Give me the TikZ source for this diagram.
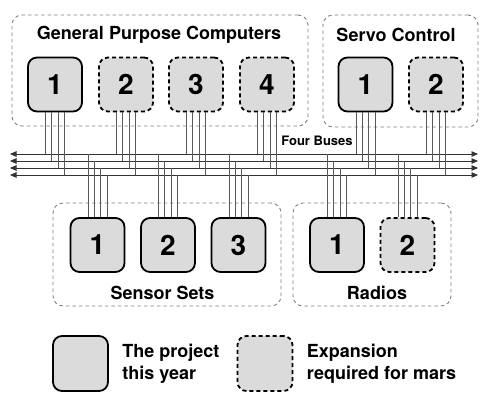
\documentclass[tikz,border=0pt]{standalone}
\usepackage{fontspec}
\setmainfont{TeX Gyre Heros}
\usetikzlibrary{arrows.meta, positioning, calc}

\begin{document}
\begin{tikzpicture}[x=1pt, y=-1pt,
    unit/.style={draw, line width=1.8pt, rounded corners=9pt, fill=gray!28, minimum width=54pt, minimum height=54pt, font=\fontsize{28}{30}\selectfont\bfseries},
    spare/.style={unit, dash pattern=on 4pt off 3pt},
    group/.style={draw=black!50, line width=0.9pt, dash pattern=on 3.5pt off 3pt, rounded corners=10pt, inner sep=0pt},
    title/.style={font=\fontsize{18}{22}\selectfont\bfseries},
    wire/.style={draw=black!65, line width=0.9pt},
    bus/.style={draw=black!80, line width=0.9pt, {Triangle[length=6.5pt,width=5.5pt]}-{Triangle[length=6.5pt,width=5.5pt]}}]

    \useasboundingbox (0,0) rectangle (490,400);

    % Groups
    \node[group, minimum width=296pt, minimum height=111pt] (gpc) at (160,70.5) {};
    \node[group, minimum width=155pt, minimum height=112pt] (servo) at (400.5,71) {};
    \node[group, minimum width=228pt, minimum height=103pt] (sensors) at (167,254.5) {};
    \node[group, minimum width=158pt, minimum height=103pt] (radios) at (372,254.5) {};

    \node[title] (gpclabel) at (159,35) {General Purpose Computers};
    \node[title] (servolabel) at (396,35) {Servo Control};
    \node[title] (sensorslabel) at (162.5,293) {Sensor Sets};
    \node[title] (radioslabel) at (377,293) {Radios};

    % Units
    \node[unit] (c1) at (55,84.5) {1};
    \node[spare] (c2) at (126,84.5) {2};
    \node[spare] (c3) at (196,84.5) {3};
    \node[spare] (c4) at (267,84.5) {4};
    \node[unit] (s1) at (365.5,84.5) {1};
    \node[spare] (s2) at (436,84.5) {2};
    \node[unit] (n1) at (97.5,245) {1};
    \node[unit] (n2) at (168,245) {2};
    \node[unit] (n3) at (238.5,245) {3};
    \node[unit] (r1) at (337,245) {1};
    \node[spare] (r2) at (407.5,245) {2};

    % Buses
    \foreach \i/\y in {1/154,2/161,3/168,4/175} {
        \coordinate (busL\i) at (10,\y);
        \coordinate (busR\i) at (478,\y);
        \draw[bus] (busL\i) -- (busR\i);
    }
    \node[font=\fontsize{13}{15}\selectfont\bfseries] (buslabel) at (317,141) {Four Buses};

    % Wires
    \foreach \n in {c1,c2,c3,c4,s1,s2}
        \foreach \i/\dx in {1/-9.5,2/-3.2,3/3.2,4/9.5}
            \draw[wire] ($(\n.south)+(\dx,0)$) -- ($(\n.south |- busL\i)+(\dx,0)$);
    \foreach \n in {n1,n2,n3,r1,r2}
        \foreach \i/\dx in {1/-9.5,2/-3.2,3/3.2,4/9.5}
            \draw[wire] ($(\n.north)+(\dx,0)$) -- ($(\n.north |- busL\i)+(\dx,0)$);

    % Legend
    \node[unit, minimum width=55pt, minimum height=55pt] (legnow) at (80.5,363.5) {};
    \node[title, right=10pt of legnow, align=left] (legnowtext) {The project\\this year};
    \node[spare, minimum width=55pt, minimum height=55pt] (legmars) at (265,363.5) {};
    \node[title, right=10pt of legmars, align=left] (legmarstext) {Expansion\\required for mars};

\end{tikzpicture}
\end{document}
